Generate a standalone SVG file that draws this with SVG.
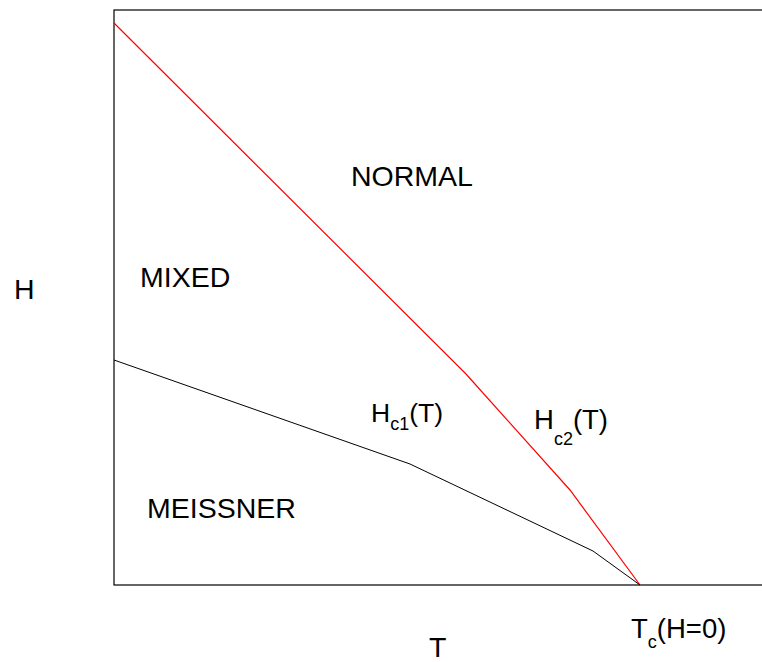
<svg xmlns="http://www.w3.org/2000/svg" width="762" height="662" viewBox="0 0 762 662">
<style>
text{font-family:"Liberation Sans",Arial,sans-serif;font-size:26.5px;fill:#000}
.big{font-size:28.5px}
.mid{font-size:27.5px}
.sub{font-size:18px}
.frame{fill:none;stroke:#000;stroke-width:1.2}
.hc2{fill:none;stroke:#ff0000;stroke-width:1.2}
.hc1{fill:none;stroke:#000;stroke-width:1}
</style>
<rect width="762" height="662" fill="#fff"/>
<g id="frame"><rect class="frame" x="114" y="10" width="660" height="575"/></g>
<g id="connectors">
<polyline class="hc2" points="114,23 466,374 570,490 640,585"/>
<polyline class="hc1" points="114,360 410,464 593,551 640,585"/>
</g>
<g id="labels">
<text id="normal" class="big" x="351" y="186">NORMAL</text>
<text id="mixed" class="big" x="140" y="287">MIXED</text>
<text id="meissner" class="big" x="147" y="518">MEISSNER</text>
<text id="h-axis" class="big" x="14" y="299">H</text>
<text id="t-axis" class="big" x="429" y="657">T</text>
<text id="hc1"  x="371" y="422">H<tspan class="sub" dy="8">c1</tspan><tspan dy="-8">(T)</tspan></text>
<text id="hc2" class="mid" x="534" y="429">H<tspan class="sub" dy="16">c2</tspan><tspan dy="-16">(T)</tspan></text>
<text id="tc" class="mid" x="631" y="638">T<tspan class="sub" dy="10">c</tspan><tspan dy="-10">(H=0)</tspan></text>
</g>
</svg>
